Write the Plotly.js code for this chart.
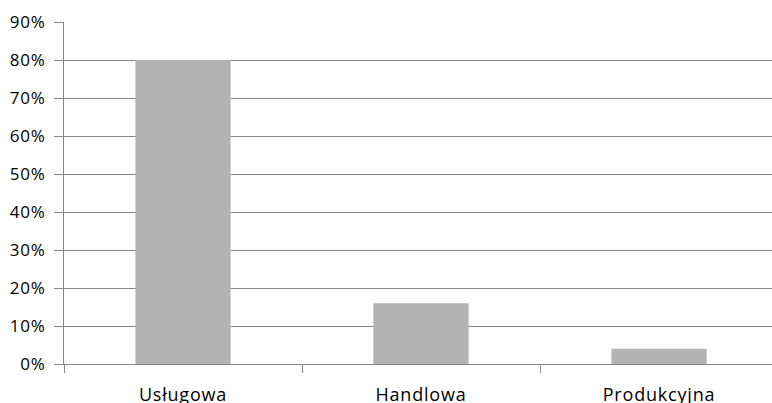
<!DOCTYPE html>
<html>
<head>
<meta charset="utf-8">
<script src="https://cdn.plot.ly/plotly-3.0.1.min.js"></script>
<style>
html,body{margin:0;padding:0;background:#fff;overflow:hidden}
.xtick text{letter-spacing:0.8px}
.ytick text{letter-spacing:0.8px}
</style>
</head>
<body>
<div id="chart" style="width:772px;height:403px"></div>
<script>
const categories = ["Usługowa", "Handlowa", "Produkcyjna"];
const shares = [0.80, 0.16, 0.04];

const gridColor = "#868686";
Plotly.newPlot("chart", [{
  type: "bar",
  x: categories,
  y: shares,
  width: 0.40,
  marker: {color: "#b3b3b3"},
  hoverinfo: "skip"
}], {
  width: 772, height: 403,
  margin: {l: 64, r: 0, t: 22, b: 39, pad: 0},
  paper_bgcolor: "#fff", plot_bgcolor: "#fff",
  showlegend: false,
  font: {family: "'Open Sans', Lato, sans-serif", size: 17, color: "#000"},
  xaxis: {
    type: "category",
    range: [-0.5, -0.5 + 708/238],
    showgrid: false, zeroline: false,
    showline: true, linecolor: gridColor, linewidth: 1,
    ticks: "outside", tickson: "boundaries", ticklen: 8, tickcolor: gridColor, tickwidth: 1,
    ticklabelstandoff: 14,
    tickfont: {size: 18, color: "#000"}
  },
  yaxis: {
    range: [0, 0.9], dtick: 0.1, tick0: 0, tickformat: ".0%",
    showgrid: true, gridcolor: gridColor, gridwidth: 1,
    zeroline: false,
    showline: true, linecolor: gridColor, linewidth: 1,
    ticks: "outside", ticklen: 9, tickcolor: gridColor, tickwidth: 1,
    ticklabelstandoff: 5,
    tickfont: {size: 17, color: "#000"}
  }
}, {staticPlot: true, displayModeBar: false});
</script>
</body>
</html>
